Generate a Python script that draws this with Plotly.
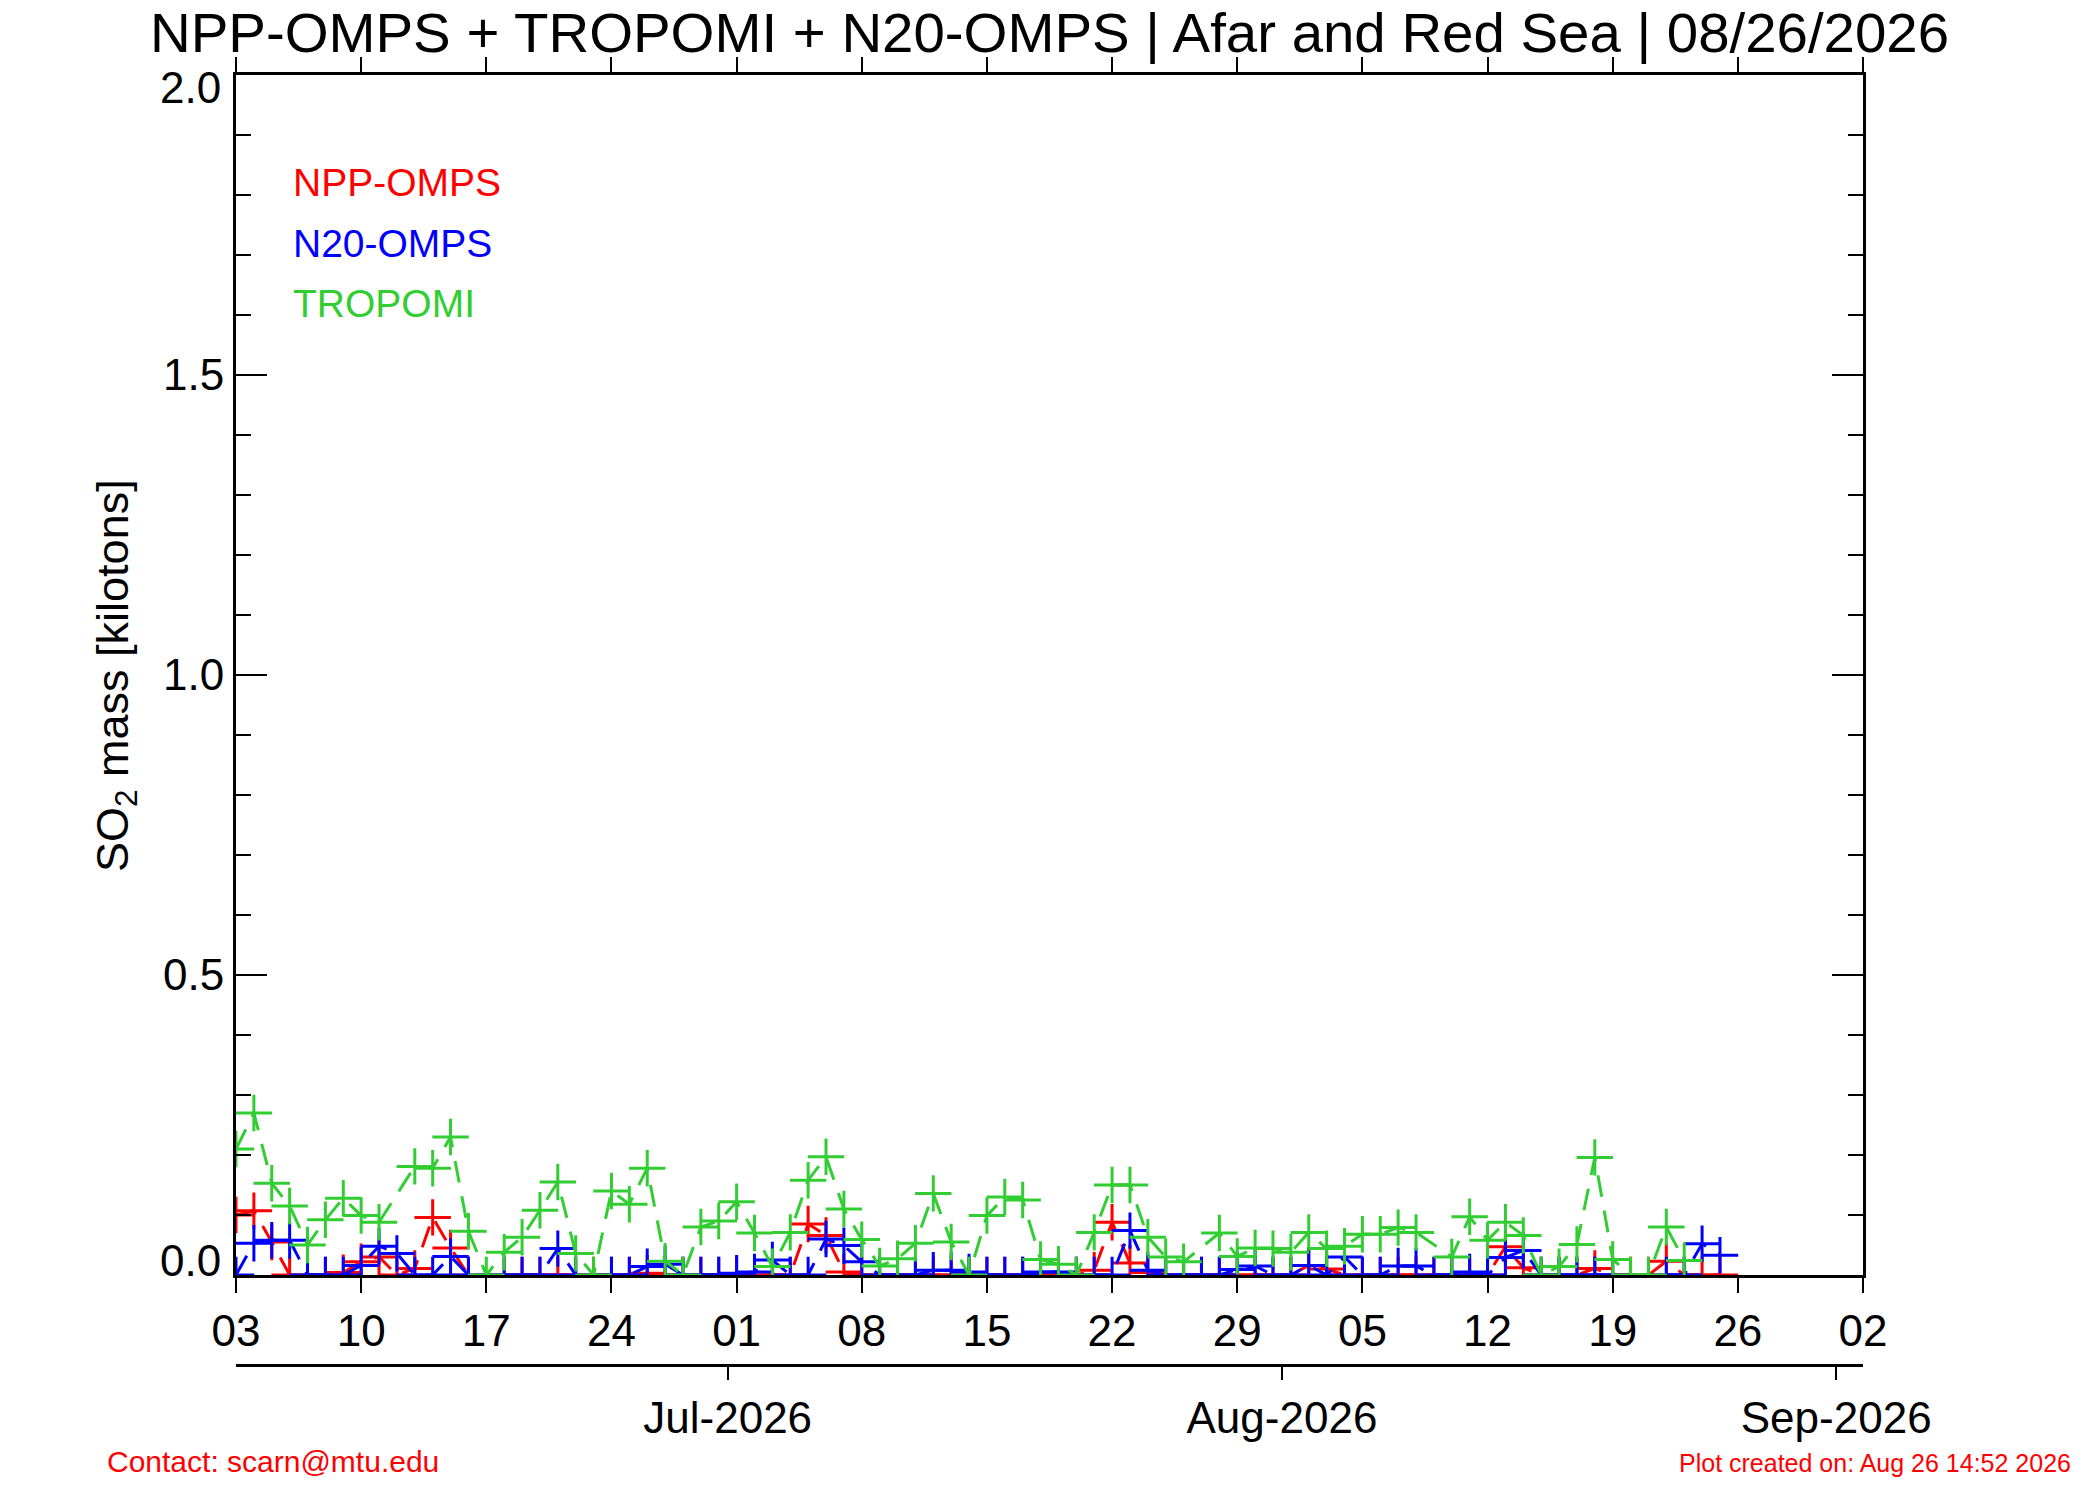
import pandas as pd
import plotly.graph_objects as go

# ---------------- data ----------------
start_date = "2026-06-03"
n_days = 84
dates = pd.date_range(start_date, periods=n_days, freq="D")

npp_omps = [0.10, 0.107, 0.055, 0, 0, 0, 0.004, 0.022, 0.03, 0,
            0.011, 0.096, 0.045, 0, None, 0, 0, 0, 0, 0,
            0, 0, 0, 0.003, 0, 0, 0, 0, 0, 0,
            0, 0, 0.085, 0.066, 0.005, 0, 0, 0, 0, 0,
            0, 0, 0, 0, 0, 0, 0, 0, 0.008, 0.088,
            0.02, 0.004, 0, 0, 0, 0, 0, 0, 0, 0,
            0.016, 0.01, 0, 0, 0, 0, 0, 0, 0, 0,
            0, 0.047, 0.012, 0, 0, 0, 0.011, 0, 0, 0,
            0.023, 0, 0, 0]

n20_omps = [0, 0.053, 0.058, 0.058, 0, 0, 0, 0.016, 0.048, 0.036,
            0, 0, 0.031, 0, None, 0, 0, 0, 0.044, 0,
            None, 0, 0, 0.014, 0.018, 0, 0, 0, 0.003, 0.005,
            0.025, 0, 0, 0.06, 0.049, 0.022, 0, 0, 0, 0.008,
            0.008, 0.005, 0, 0, 0, 0.005, 0.005, 0, 0, 0,
            0.074, 0.008, 0, 0, 0, 0, 0.009, 0.015, 0, 0,
            0.016, 0, 0.03, 0, 0, 0.015, 0.015, 0, 0, 0.005,
            0, 0.029, 0.041, 0, 0, 0, 0, 0, None, None,
            0, 0, 0.052, 0.033]

tropomi = [0.21, 0.27, 0.153, 0.115, 0.05, 0.092, 0.128, 0.099, 0.088, None,
           0.181, 0.178, 0.23, 0.073, 0.0, 0.038, 0.063, 0.108, 0.155, 0.036,
           0.0, 0.14, 0.118, 0.178, 0.023, 0.0, 0.08, 0.09, 0.122, 0.07,
           0.014, 0.071, 0.158, 0.197, 0.11, 0.059, 0.015, 0.027, 0.053, 0.136,
           0.055, 0.0, 0.099, 0.13, 0.125, 0.026, 0.018, 0.0, 0.071, 0.15,
           0.15, 0.063, 0.03, 0.022, None, 0.07, 0.031, 0.045, 0.044, 0.038,
           0.071, 0.044, 0.048, 0.068, 0.068, 0.079, 0.071, None, 0.03, 0.097,
           0.058, 0.088, 0.066, 0.0, 0.014, 0.051, 0.196, 0.026, 0.0, 0.0,
           0.08, 0.024, None, None]

x_range = ["2026-06-03", "2026-09-02"]
month_ticks = ["2026-07-01", "2026-08-01", "2026-09-01"]
month_labels = ["Jul-2026", "Aug-2026", "Sep-2026"]
y_ticks = [0.0, 0.5, 1.0, 1.5, 2.0]

title_text = "NPP-OMPS + TROPOMI + N20-OMPS | Afar and Red Sea | 08/26/2026"
legend_names = ["NPP-OMPS", "N20-OMPS", "TROPOMI"]

# ---------------- style ----------------
FONT = "Liberation Sans, Arial, Helvetica, sans-serif"
RED, BLUE, GREEN = "#ff0000", "#0000ff", "#32cd32"
OFF = 8                       # page body margin
W, H = 2100 - OFF, 1500 - OFF
# plot box in page pixels
BOX_L, BOX_R, BOX_T, BOX_B = 236, 1863, 75, 1275
MONTH_AXIS_Y = 1365
ML = BOX_L - OFF
MR = W - (BOX_R - OFF)
MT = BOX_T - OFF
MB = H - (MONTH_AXIS_Y - OFF)
PW, PH = W - ML - MR, H - MT - MB


def fx(px):
    return (px - OFF - ML) / PW


def fy(py):
    return (H - MB - (py - OFF)) / PH


fig = go.Figure()


def add_series(vals, color, name):
    fig.add_trace(go.Scatter(
        x=dates, y=vals, name=name, mode="lines+markers",
        connectgaps=True,
        line=dict(color=color, width=3, dash="22px,14px"),
        marker=dict(symbol="cross-thin", size=26, color=color,
                    line=dict(width=3, color=color)),
        showlegend=False,
    ))


add_series(npp_omps, RED, "NPP-OMPS")
add_series(n20_omps, BLUE, "N20-OMPS")
add_series(tropomi, GREEN, "TROPOMI")

# helper trace so that the month axis is drawn
fig.add_trace(go.Scatter(x=[dates[0]], y=[None], xaxis="x2", yaxis="y",
                         showlegend=False, hoverinfo="skip"))

# month ticks sit half a day before the month start (julian-day convention)
month_tick_pos = [pd.Timestamp(m) - pd.Timedelta(hours=12) for m in month_ticks]

# inner y tick labels on the axis; the end labels are nudged inward below
y_ticktext = ["" if (v == y_ticks[0] or v == y_ticks[-1]) else f"{v:.1f}"
              for v in y_ticks]

fig.update_layout(
    width=W, height=H,
    margin=dict(l=ML, r=MR, t=MT, b=MB, pad=0),
    paper_bgcolor="white", plot_bgcolor="white",
    font=dict(family=FONT, color="black", size=44),
    title=dict(text=title_text, x=((BOX_L + BOX_R) / 2 - OFF) / W,
               xanchor="center",
               y=1 - (32 - OFF) / H, yanchor="middle",
               font=dict(family=FONT, size=56.4, color="black")),
    xaxis=dict(
        type="date", range=x_range, anchor="y",
        tick0=start_date, dtick=7 * 86400000, tickformat="%d",
        ticks="outside", ticklen=15, tickwidth=2, tickcolor="black",
        showline=True, linewidth=3, linecolor="black", mirror="ticks",
        showgrid=False, zeroline=False,
        tickfont=dict(family=FONT, size=44, color="black"),
    ),
    xaxis2=dict(
        type="date", range=x_range, overlaying="x", anchor="free",
        position=0, side="bottom",
        tickmode="array", tickvals=month_tick_pos, ticktext=month_labels,
        ticks="outside", ticklen=13, tickwidth=2, tickcolor="black",
        showline=True, linewidth=3, linecolor="black",
        showgrid=False, zeroline=False,
        tickfont=dict(family=FONT, size=44, color="black"),
    ),
    yaxis=dict(
        range=[y_ticks[0], y_ticks[-1]], domain=[fy(BOX_B), 1],
        tickmode="array", tickvals=y_ticks, ticktext=y_ticktext,
        ticks="inside", ticklen=31, tickwidth=2, tickcolor="black",
        minor=dict(tickmode="linear", tick0=0, dtick=0.1, ticks="inside",
                   ticklen=15, tickwidth=2, tickcolor="black", showgrid=False),
        showline=True, linewidth=3, linecolor="black", mirror="ticks",
        showgrid=False, zeroline=False,
        tickfont=dict(family=FONT, size=44, color="black"),
    ),
)

annotations = []
# end labels of the y axis, nudged inward as in the original
for v, shift in ((y_ticks[0], 15), (y_ticks[-1], -12)):
    annotations.append(dict(
        text=f"{v:.1f}", xref="paper", yref="y", x=0, y=v,
        xanchor="right", yanchor="middle", xshift=-13, yshift=shift,
        showarrow=False, font=dict(family=FONT, size=44, color="black")))

legend_colors = [RED, BLUE, GREEN]
legend_y = [183, 243, 303]
for name, col, py in zip(legend_names, legend_colors, legend_y):
    annotations.append(dict(
        text=name, xref="paper", yref="paper", x=fx(291), y=fy(py),
        xanchor="left", yanchor="middle", showarrow=False,
        font=dict(family=FONT, size=39, color=col)))

annotations.append(dict(
    text="SO<sub>2</sub> mass [kilotons]", xref="paper", yref="paper",
    x=fx(115), y=fy(676), xanchor="center", yanchor="middle",
    textangle=-90, showarrow=False,
    font=dict(family=FONT, size=45, color="black")))

annotations.append(dict(
    text="Contact: scarn@mtu.edu", xref="paper", yref="paper",
    x=fx(105), y=fy(1461), xanchor="left", yanchor="middle",
    showarrow=False, font=dict(family=FONT, size=30, color=RED)))

annotations.append(dict(
    text="Plot created on: Aug 26 14:52 2026", xref="paper", yref="paper",
    x=fx(2073), y=fy(1463), xanchor="right", yanchor="middle",
    showarrow=False, font=dict(family=FONT, size=25, color=RED)))

fig.update_layout(annotations=annotations)

fig.write_html("out.html")
